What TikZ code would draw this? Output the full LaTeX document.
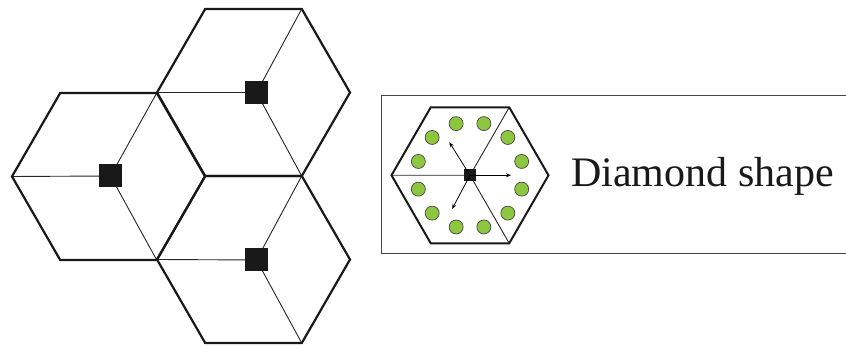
\documentclass[tikz,border=0pt]{standalone}
\usepackage{fontspec}
\setmainfont{Liberation Serif}
\usetikzlibrary{arrows.meta,calc}
\definecolor{cellgreen}{RGB}{141,198,63}
\definecolor{boxgray}{RGB}{70,70,70}
\tikzset{
  thickedge/.style={line width=2.2pt, line join=miter, black!90},
  thinline/.style={line width=0.9pt, black!85},
  bssq/.style={draw=none, fill=black!90, minimum size=23pt, inner sep=0pt},
  smallsq/.style={draw=none, fill=black!90, minimum size=12pt, inner sep=0pt},
  ue/.style={circle, draw=boxgray, line width=0.7pt, fill=cellgreen, minimum size=14pt, inner sep=0pt},
  beam/.style={line width=0.8pt, black, -{Stealth[length=5pt,width=4pt]}},
  frame/.style={line width=1pt, boxgray}
}
\begin{document}
\begin{tikzpicture}[x=1pt,y=1pt]
\useasboundingbox (0,0) rectangle (846,347);
% three large cells
\foreach \cx/\cy/\sx/\sy/\n in {108.5/170.5/110.5/171/a, 253.5/254.5/256.5/254.5/b, 253.5/87.5/256.5/87/c}{
  \coordinate (h\n c) at (\cx,\cy);
  \foreach \k in {0,...,5}{
    \coordinate (h\n v\k) at ($(h\n c)+(\k*60:96.5pt)$);
  }
  \node[bssq] (sq\n) at (\sx,\sy) {};
  \draw[thinline] (h\n v3) -- (sq\n.center) -- (h\n v1);
  \draw[thinline] (sq\n.center) -- (h\n v5);
  \draw[thickedge] (h\n v0) -- (h\n v1) -- (h\n v2) -- (h\n v3) -- (h\n v4) -- (h\n v5) -- cycle;
  \node[bssq] at (\sx,\sy) {};
}
% legend frame
\coordinate (ft) at (846,251);
\coordinate (fb) at (846,93);
\draw[frame] (ft) -- (381,251) -- (381,93) -- (fb);
% small cell
\coordinate (sc) at (470,171.7);
\foreach \k in {0,...,5}{
  \coordinate (sv\k) at ($(sc)+(\k*60:78.5pt)$);
}
\draw[thinline] (sv3) -- (sc) -- (sv1);
\draw[thinline] (sc) -- (sv5);
\draw[thickedge, line width=2pt] (sv0) -- (sv1) -- (sv2) -- (sv3) -- (sv4) -- (sv5) -- cycle;
\node[smallsq] (ssq) at (sc) {};
\coordinate (b0) at ($(sc)+(0:41pt)$);
\coordinate (b1) at ($(sc)+(122:39pt)$);
\coordinate (b2) at ($(sc)+(242:38pt)$);
\draw[beam] (ssq.center) -- (b0);
\draw[beam] (ssq.center) -- (b1);
\draw[beam] (ssq.center) -- (b2);
\foreach \k in {0,...,11}{
  \node[ue] (u\k) at ($(sc)+(15+\k*30:53.5pt)$) {};
}
\node[anchor=base west, inner sep=0pt, font=\fontsize{42}{50}\selectfont, text=black!90] (lbl) at (571,160.3) {Diamond shape};
\end{tikzpicture}
\end{document}
